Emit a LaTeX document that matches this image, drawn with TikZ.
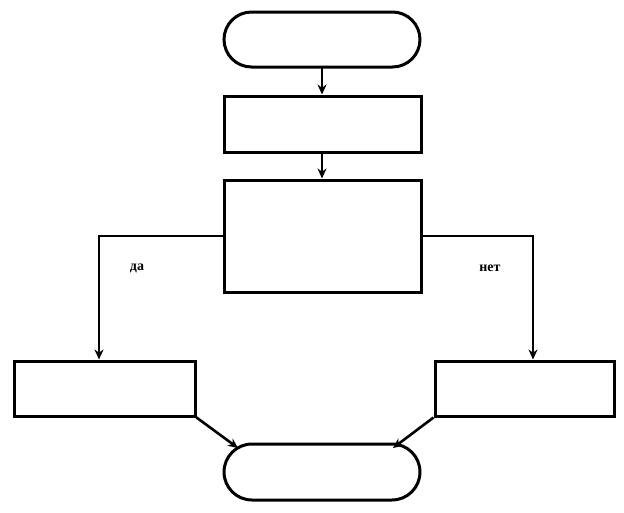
\documentclass[tikz,border=0pt]{standalone}
\usepackage{fontspec}
\setmainfont{Liberation Serif}
\usetikzlibrary{arrows.meta}
\begin{document}
\begin{tikzpicture}[x=1pt,y=-1pt,
  blk/.style={draw=black,line width=3pt,fill=white,inner sep=0pt},
  conn/.style={draw=black,line width=2.6pt,-{Stealth[length=10pt,width=9pt]}},
  lbl/.style={font=\bfseries\fontsize{14}{16}\selectfont}]
\useasboundingbox[fill=white] (0,0) rectangle (624,512);
\draw[blk,rounded corners=27.5pt] (224,12) rectangle (420,67);
\coordinate (t1b) at (322,67);
\node[blk,minimum width=197pt,minimum height=56pt] (b1) at (322.5,124) {};
\node[blk,minimum width=197pt,minimum height=112pt] (b2) at (322.5,236) {};
\node[blk,minimum width=181pt,minimum height=55pt] (bl) at (104.5,388.5) {};
\node[blk,minimum width=179pt,minimum height=55pt] (br) at (524.5,388.5) {};
\draw[blk,rounded corners=28pt] (224,444) rectangle (420,500);
\coordinate (t2l) at (238,448);
\coordinate (t2r) at (393,448);
\draw[conn] (t1b) -- (b1.north -| t1b);
\draw[conn] (b1.south -| t1b) -- (b2.north -| t1b);
\draw[conn] (b2.west) -- (99,236) -- (bl.north -| 99,0);
\draw[conn] (b2.east) -- (533,236) -- (br.north -| 533,0);
\draw[conn] (bl.south east) -- (t2l);
\draw[conn] (br.south west) -- (t2r);
\node[lbl] (yes) at (137,268) {да};
\node[lbl] (no) at (490,268) {нет};
\end{tikzpicture}
\end{document}
